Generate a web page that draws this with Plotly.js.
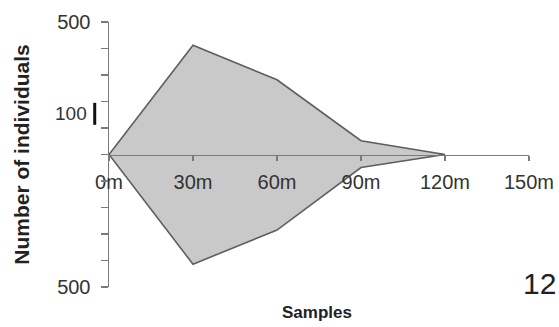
<!DOCTYPE html>
<html>
<head>
<meta charset="utf-8">
<script src="https://cdn.plot.ly/plotly-3.0.1.min.js"></script>
<style>html,body{margin:0;padding:0;background:#fff;}#chart{width:559px;height:327px;}</style>
</head>
<body>
<div id="chart"></div>
<script>
// Kite diagram data
var samples = [0, 30, 60, 90, 120];
var upperCounts = [0, 412, 282, 52, 0];
var lowerCounts = [0, 414, 285, 49, 0];
var xTickVals = [0, 30, 60, 90, 120, 150];
var xTickText = ['0m', '30m', '60m', '90m', '120m', '150m'];
var yTickVals = [-500, -400, -300, -200, -100, 0, 100, 200, 300, 400, 500];
var yTickText = ['500', '', '', '', '', '', '', '', '', '', '500'];
var scaleBar = [112, 195];

var px = [], py = [];
for (var i = 0; i < samples.length; i++) { px.push(samples[i]); py.push(upperCounts[i]); }
for (var j = samples.length - 1; j >= 0; j--) { px.push(samples[j]); py.push(-lowerCounts[j]); }
px.push(samples[0]); py.push(upperCounts[0]);

var trace = {
  x: px, y: py, type: 'scatter', mode: 'lines', fill: 'toself',
  fillcolor: '#c9c9c9', line: {color: '#5e5e5e', width: 1.6},
  hoverinfo: 'skip', showlegend: false
};

var font = 'Liberation Sans, Arial, sans-serif';
var layout = {
  width: 559, height: 327,
  margin: {l: 109, r: 30, t: 22, b: 40},
  paper_bgcolor: '#fff', plot_bgcolor: '#fff',
  showlegend: false,
  xaxis: {
    range: [0, 150], anchor: 'free', position: 0.5,
    showline: true, linecolor: '#7a7a7a', linewidth: 1.5,
    ticks: 'outside', ticklen: 5, tickcolor: '#7a7a7a', tickwidth: 1.2,
    tickvals: xTickVals, ticktext: xTickText, ticklabelstandoff: 4,
    tickfont: {family: font, size: 20, color: '#333'},
    showgrid: false, zeroline: false, fixedrange: true
  },
  yaxis: {
    range: [-500, 500],
    showline: true, linecolor: '#7a7a7a', linewidth: 1.5,
    ticks: 'outside', ticklen: 7, tickcolor: '#7a7a7a', tickwidth: 1.2,
    tickvals: yTickVals, ticktext: yTickText, ticklabelstandoff: 6,
    tickfont: {family: font, size: 20, color: '#333'},
    showgrid: false, zeroline: false, fixedrange: true,
    title: {text: 'Number of individuals', font: {family: font, size: 21, color: '#222', weight: 'bold'}, standoff: 22}
  },
  shapes: [{
    type: 'line', xref: 'paper', yref: 'y',
    x0: -0.034, x1: -0.034, y0: scaleBar[0], y1: scaleBar[1],
    line: {color: '#111', width: 3}
  }],
  annotations: [
    {text: '100', xref: 'paper', yref: 'y', x: -0.048, y: (scaleBar[0] + scaleBar[1]) / 2,
     xanchor: 'right', yanchor: 'middle', showarrow: false,
     font: {family: font, size: 19, color: '#333'}},
    {text: '<b>Samples</b>', xref: 'paper', yref: 'paper', x: 0.495, y: -0.098,
     xanchor: 'center', yanchor: 'middle', showarrow: false,
     font: {family: font, size: 17, color: '#222'}},
    {text: '12', xref: 'paper', yref: 'paper', x: 1.07, y: 0.013,
     xanchor: 'right', yanchor: 'middle', showarrow: false,
     font: {family: font, size: 30, color: '#222'}}
  ]
};

Plotly.newPlot('chart', [trace], layout, {displayModeBar: false, staticPlot: true});
</script>
</body>
</html>
